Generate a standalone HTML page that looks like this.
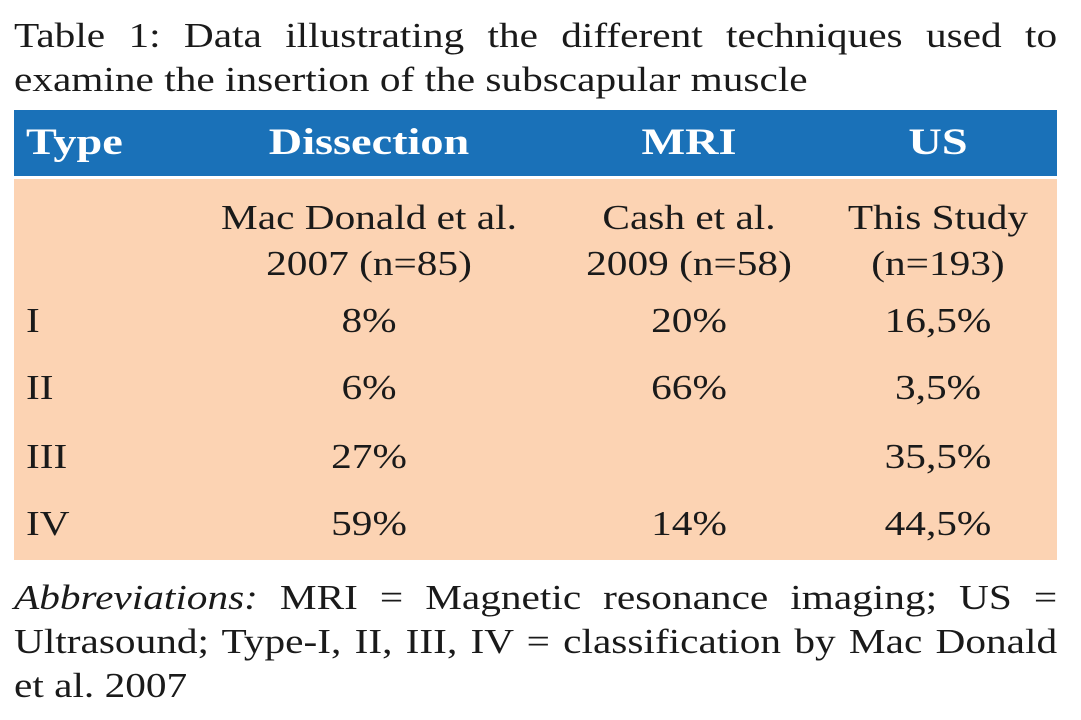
<!DOCTYPE html>
<html><head><meta charset="utf-8">
<style>
body{margin:0;width:1081px;height:720px;background:#fff;font-family:"Liberation Serif",serif;color:#1a1a1a;position:relative;overflow:hidden}
.t{position:absolute;font-size:35px;line-height:1;white-space:nowrap;transform:scaleX(1.18);transform-origin:0 50%}
.c{transform:translateX(-50%) scaleX(1.18);transform-origin:50% 50%;text-align:center}
.j{position:absolute;left:14px;width:884px;font-size:35px;text-align:justify;text-align-last:justify;line-height:1;transform:scaleX(1.18);transform-origin:0 50%}
.hdr{position:absolute;left:14px;top:110px;width:1043px;height:66px;background:#1a71b8}
.body{position:absolute;left:14px;top:179px;width:1043px;height:381px;background:#fcd3b3}
.h{color:#fff;font-weight:bold;font-size:37px}
.t.h{transform:scaleX(1.25)}
.c.h{transform:translateX(-50%) scaleX(1.25)}
</style></head><body>
<div class="j" style="top:18px">Table 1: Data illustrating the different techniques used to</div>
<div class="t" style="left:14px;top:62px">examine the insertion of the subscapular muscle</div>
<div class="hdr"></div>
<div class="body"></div>
<div class="t h" style="left:26px;top:124px">Type</div>
<div class="t h c" style="left:369px;top:124px">Dissection</div>
<div class="t h c" style="left:689px;top:124px">MRI</div>
<div class="t h c" style="left:938px;top:124px">US</div>
<div class="t c" style="left:369px;top:195px;line-height:46px">Mac Donald et al.<br>2007 (n=85)</div>
<div class="t c" style="left:689px;top:195px;line-height:46px">Cash et al.<br>2009 (n=58)</div>
<div class="t c" style="left:938px;top:195px;line-height:46px">This Study<br>(n=193)</div>
<div class="t" style="left:26px;top:303px">I</div>
<div class="t c" style="left:369px;top:303px">8%</div>
<div class="t c" style="left:689px;top:303px">20%</div>
<div class="t c" style="left:938px;top:303px">16,5%</div>
<div class="t" style="left:26px;top:370px">II</div>
<div class="t c" style="left:369px;top:370px">6%</div>
<div class="t c" style="left:689px;top:370px">66%</div>
<div class="t c" style="left:938px;top:370px">3,5%</div>
<div class="t" style="left:26px;top:439px">III</div>
<div class="t c" style="left:369px;top:439px">27%</div>
<div class="t c" style="left:938px;top:439px">35,5%</div>
<div class="t" style="left:26px;top:506px">IV</div>
<div class="t c" style="left:369px;top:506px">59%</div>
<div class="t c" style="left:689px;top:506px">14%</div>
<div class="t c" style="left:938px;top:506px">44,5%</div>
<div class="j" style="top:580px"><i>Abbreviations:</i> MRI = Magnetic resonance imaging; US =</div>
<div class="j" style="top:624px">Ultrasound; Type-I, II, III, IV = classification by Mac Donald</div>
<div class="t" style="left:14px;top:668px">et al. 2007</div>
</body></html>
